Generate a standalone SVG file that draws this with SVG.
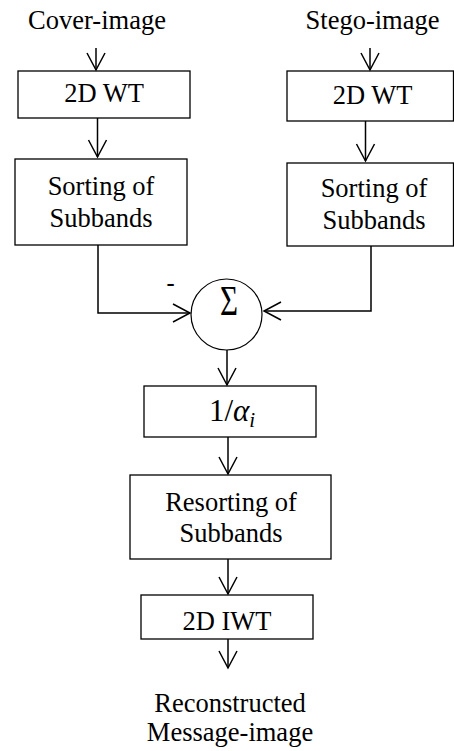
<svg xmlns="http://www.w3.org/2000/svg" width="454" height="751" viewBox="0 0 454 751">
<style>
  .box { fill: #fff; stroke: #000; stroke-width: 1.3; }
  .t { font-family: "Liberation Serif", "Times New Roman", serif; font-size: 26.5px; fill: #000; text-anchor: middle; }
  .ln { fill: none; stroke: #000; stroke-width: 1.5; }
</style>
<defs>
  <marker id="ah" markerUnits="userSpaceOnUse" markerWidth="24" markerHeight="24" viewBox="-20 -12 24 24" refX="0" refY="0" orient="auto">
    <path d="M-17,-9 L0,0 L-17,9" fill="none" stroke="#000" stroke-width="1.5"/>
  </marker>
</defs>
<rect width="454" height="751" fill="#fff"/>

<g id="cover-label"><text class="t" x="97" y="29">Cover-image</text></g>
<g id="stego-label"><text class="t" x="372.5" y="29">Stego-image</text></g>

<g id="wt-left">
  <rect class="box" x="18" y="71" width="172" height="47"/>
  <text class="t" x="104" y="102">2D WT</text>
</g>
<g id="wt-right">
  <rect class="box" x="287" y="71" width="166.5" height="50"/>
  <text class="t" x="372.5" y="104">2D WT</text>
</g>
<g id="sort-left">
  <rect class="box" x="15" y="159" width="172" height="86"/>
  <text class="t" x="101" y="195">Sorting of</text>
  <text class="t" x="101" y="227">Subbands</text>
</g>
<g id="sort-right">
  <rect class="box" x="287" y="163" width="166.5" height="83"/>
  <text class="t" x="374" y="197">Sorting of</text>
  <text class="t" x="374" y="229">Subbands</text>
</g>
<g id="sum">
  <circle cx="226.5" cy="314.5" r="35.5" fill="#fff" stroke="#000" stroke-width="1.2"/>
  <text x="229" y="237" font-family="Liberation Serif, serif" font-size="31" text-anchor="middle" transform="scale(1,1.33)">Σ</text>
</g>
<g id="minus"><text x="170.5" y="292" font-family="Liberation Sans, Arial, sans-serif" font-size="26" text-anchor="middle">-</text></g>
<g id="scale">
  <rect class="box" x="144" y="386" width="172" height="51"/>
  <text x="232" y="421" font-family="Liberation Serif, serif" font-size="31" text-anchor="middle">1/<tspan font-style="italic">α</tspan><tspan font-style="italic" font-size="21" dy="6">i</tspan></text>
</g>
<g id="resort">
  <rect class="box" x="130" y="475" width="201" height="84"/>
  <text class="t" x="231" y="511">Resorting of</text>
  <text class="t" x="231" y="542">Subbands</text>
</g>
<g id="iwt">
  <rect class="box" x="141" y="595" width="172" height="44"/>
  <text class="t" x="227" y="630">2D IWT</text>
</g>
<g id="out-label">
  <text class="t" x="230" y="712">Reconstructed</text>
  <text class="t" x="230" y="741">Message-image</text>
</g>

<g id="connectors">
  <line class="ln" x1="96" y1="48" x2="96" y2="70" marker-end="url(#ah)"/>
  <line class="ln" x1="370" y1="48" x2="370" y2="70" marker-end="url(#ah)"/>
  <line class="ln" x1="97.5" y1="118" x2="97.5" y2="157" marker-end="url(#ah)"/>
  <line class="ln" x1="365.5" y1="121" x2="365.5" y2="161" marker-end="url(#ah)"/>
  <polyline class="ln" points="98,245 98,313 190,313" marker-end="url(#ah)"/>
  <polyline class="ln" points="371,246 371,311 264,311" marker-end="url(#ah)"/>
  <line class="ln" x1="227" y1="350" x2="227" y2="385" marker-end="url(#ah)"/>
  <line class="ln" x1="228" y1="437" x2="228" y2="474" marker-end="url(#ah)"/>
  <line class="ln" x1="228" y1="559" x2="228" y2="594" marker-end="url(#ah)"/>
  <line class="ln" x1="228" y1="639" x2="228" y2="668" marker-end="url(#ah)"/>
</g>
</svg>
